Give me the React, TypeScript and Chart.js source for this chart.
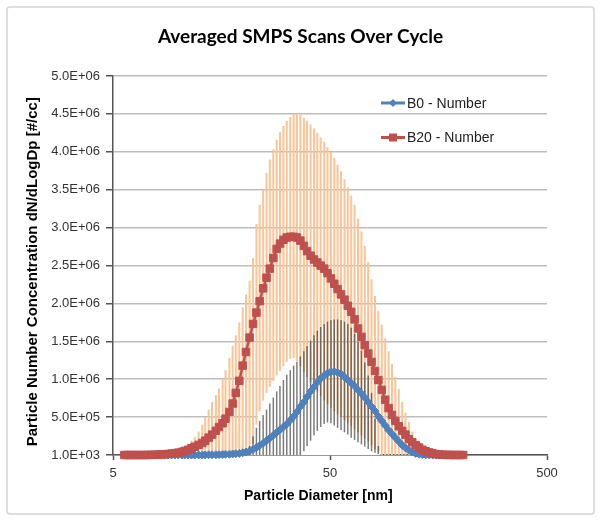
import React, { useEffect, useRef } from "react";
import { Chart, registerables } from "chart.js";

Chart.register(...registerables);

// Particle diameters (nm), SMPS channel midpoints
const DIAMETERS = [
  5.64, 5.83, 6.04, 6.26, 6.49, 6.73, 6.98, 7.23, 7.5, 7.77,
  8.06, 8.35, 8.66, 8.98, 9.31, 9.65, 10.0, 10.4, 10.7, 11.1,
  11.5, 11.9, 12.4, 12.9, 13.3, 13.8, 14.3, 14.9, 15.4, 16.0,
  16.5, 17.2, 17.8, 18.4, 19.1, 19.8, 20.5, 21.3, 22.1, 22.9,
  23.7, 24.6, 25.5, 26.4, 27.4, 28.4, 29.4, 30.5, 31.6, 32.8,
  34.0, 35.2, 36.5, 37.9, 39.2, 40.7, 42.2, 43.7, 45.3, 47.0,
  48.7, 50.5, 52.3, 54.2, 56.2, 58.3, 60.4, 62.6, 64.9, 67.3,
  69.8, 72.3, 75.0, 77.7, 80.6, 83.5, 86.6, 89.8, 93.1, 96.5,
  100.0, 103.7, 107.5, 111.4, 115.5, 119.7, 124.1, 128.6, 133.3, 138.2,
  143.3, 148.6, 154.0, 159.6, 165.5, 171.5, 177.8, 184.3, 191.1, 198.1,
  205.4,
];

// B0 - Number (dN/dLogDp, #/cc)
const B0_NUMBER = [
  1e3, 1e3, 1e3, 1e3, 1e3, 1e3, 1e3, 1e3, 1e3, 1e3,
  1e3, 1e3, 1e3, 1e3, 1e3, 1e3, 1e3, 1e3, 1e3, 1e3,
  1e3, 1e3, 1e3, 1e3, 2e3, 3e3, 4e3, 5e3, 6e3, 8e3,
  1e4, 1.2e4, 1.5e4, 1.8e4, 2.2e4, 3e4, 4e4, 5.5e4, 7.5e4, 1e5,
  1.25e5, 1.55e5, 1.9e5, 2.25e5, 2.6e5, 3e5, 3.35e5, 3.7e5, 4.1e5, 4.6e5,
  5.1e5, 5.7e5, 6.4e5, 7e5, 7.7e5, 8.4e5, 9e5, 9.6e5, 1.01e6, 1.05e6,
  1.08e6, 1.1e6, 1.1e6, 1.09e6, 1.07e6, 1.03e6, 9.9e5, 9.5e5, 9.1e5, 8.6e5,
  8.1e5, 7.6e5, 7e5, 6.4e5, 5.8e5, 5.1e5, 4.5e5, 3.9e5, 3.3e5, 2.8e5,
  2.3e5, 1.8e5, 1.3e5, 9.5e4, 6.5e4, 4e4, 2.2e4, 1.2e4, 6e3, 3e3,
  2e3, 1e3, 1e3, 1e3, 1e3, 1e3, 1e3, 1e3, 1e3, 1e3,
  1e3,
];

// B20 - Number (dN/dLogDp, #/cc)
const B20_NUMBER = [
  1e3, 1e3, 1e3, 1e3, 1e3, 1e3, 1e3, 2e3, 3e3, 4e3,
  6e3, 8e3, 1.1e4, 1.5e4, 2e4, 2.5e4, 3.2e4, 4.2e4, 5.5e4, 7e4,
  9e4, 1.1e5, 1.35e5, 1.6e5, 1.9e5, 2.3e5, 2.7e5, 3.2e5, 3.7e5, 4.2e5,
  4.8e5, 5.7e5, 6.8e5, 8.2e5, 9.8e5, 1.18e6, 1.36e6, 1.55e6, 1.73e6, 1.88e6,
  2.03e6, 2.2e6, 2.34e6, 2.46e6, 2.6e6, 2.72e6, 2.79e6, 2.84e6, 2.87e6, 2.88e6,
  2.88e6, 2.87e6, 2.83e6, 2.76e6, 2.69e6, 2.63e6, 2.58e6, 2.54e6, 2.5e6, 2.46e6,
  2.4e6, 2.33e6, 2.26e6, 2.19e6, 2.12e6, 2.05e6, 1.97e6, 1.89e6, 1.79e6, 1.67e6,
  1.56e6, 1.45e6, 1.34e6, 1.23e6, 1.11e6, 9.9e5, 8.6e5, 7.3e5, 6.2e5, 5.3e5,
  4.5e5, 3.8e5, 3.2e5, 2.7e5, 2.1e5, 1.7e5, 1.3e5, 1e5, 7e4, 5e4,
  3.5e4, 2.2e4, 1.3e4, 8e3, 5e3, 3e3, 2e3, 1e3, 1e3, 1e3,
  1e3,
];

// B20 error bar tops (orange)
const B20_ERR_HIGH = [
  1e3, 1e3, 1e3, 1e3, 1e3, 1e3, 1e3, 1e3, 1e3, 1e3,
  1e3, 1e3, 1e3, 1e3, 2e4, 4e4, 6e4, 8e4, 1.1e5, 1.5e5,
  1.9e5, 2.4e5, 3.1e5, 4e5, 5e5, 6e5, 7e5, 7.9e5, 8.8e5, 1e6,
  1.12e6, 1.28e6, 1.44e6, 1.58e6, 1.75e6, 1.95e6, 2.12e6, 2.3e6, 2.6e6, 3.05e6,
  3.3e6, 3.5e6, 3.72e6, 3.9e6, 4.03e6, 4.16e6, 4.26e6, 4.34e6, 4.41e6, 4.46e6,
  4.5e6, 4.51e6, 4.49e6, 4.45e6, 4.41e6, 4.36e6, 4.31e6, 4.25e6, 4.19e6, 4.13e6,
  4.06e6, 4e6, 3.92e6, 3.83e6, 3.74e6, 3.64e6, 3.53e6, 3.42e6, 3.3e6, 3.12e6,
  2.95e6, 2.76e6, 2.55e6, 2.32e6, 2.1e6, 1.9e6, 1.72e6, 1.54e6, 1.37e6, 1.2e6,
  1.03e6, 8.7e5, 7e5, 5.6e5, 4.4e5, 3.1e5, 1.8e5, 8e4, 3e4, 1e3,
  1e3, 1e3, 1e3, 1e3, 1e3, 1e3, 1e3, 1e3, 1e3, 1e3,
  1e3,
];

// B0 error bar bottoms (dark)
const B0_ERR_LOW = [
  1e3, 1e3, 1e3, 1e3, 1e3, 1e3, 1e3, 1e3, 1e3, 1e3,
  1e3, 1e3, 1e3, 1e3, 1e3, 1e3, 1e3, 1e3, 1e3, 1e3,
  1e3, 1e3, 1e3, 1e3, 1e3, 1e3, 1e3, 1e3, 1e3, 1e3,
  1e3, 1e3, 1e3, 1e3, 1e3, 1e3, 1e3, 1e3, 1e3, 1e3,
  1e3, 1e3, 1e3, 1e3, 1e3, 1e3, 1e3, 1e3, 1e3, 1e3,
  1e3, 1e3, 1e3, 5e4, 1.2e5, 1.9e5, 2.6e5, 3.2e5, 3.7e5, 4.1e5,
  4.3e5, 4.2e5, 3.9e5, 3.6e5, 3.3e5, 3e5, 2.7e5, 2.3e5, 2e5, 1.7e5,
  1.4e5, 1.1e5, 8e4, 5e4, 3e4, 1e4, 1e3, 1e3, 1e3, 1e3,
  1e3, 1e3, 1e3, 1e3, 1e3, 1e3, 1e3, 1e3, 1e3, 1e3,
  1e3, 1e3, 1e3, 1e3, 1e3, 1e3, 1e3, 1e3, 1e3, 1e3,
  1e3,
];

// B0 error bar tops (dark)
const B0_ERR_HIGH = [
  1e3, 1e3, 1e3, 1e3, 1e3, 1e3, 1e3, 1e3, 1e3, 1e3,
  1e3, 1e3, 1e3, 1e3, 1e3, 1e3, 1e3, 1e3, 1e3, 1e3,
  1e3, 1e3, 1e3, 1e3, 1e3, 1e3, 1e3, 1e3, 1e3, 1e3,
  1e3, 1e3, 1e3, 1e3, 1e3, 1e3, 1e3, 1.2e5, 2.5e5, 3.6e5,
  4.5e5, 5.3e5, 6e5, 6.8e5, 7.6e5, 8.4e5, 9.1e5, 9.9e5, 1.06e6, 1.12e6,
  1.18e6, 1.23e6, 1.3e6, 1.37e6, 1.44e6, 1.51e6, 1.58e6, 1.64e6, 1.69e6, 1.73e6,
  1.76e6, 1.78e6, 1.79e6, 1.79e6, 1.78e6, 1.76e6, 1.73e6, 1.68e6, 1.6e6, 1.5e6,
  1.38e6, 1.22e6, 1.05e6, 8.2e5, 4.8e5, 1.2e5, 1e3, 1e3, 1e3, 1e3,
  1e3, 1e3, 1e3, 1e3, 1e3, 1e3, 1e3, 1e3, 1e3, 1e3,
  1e3, 1e3, 1e3, 1e3, 1e3, 1e3, 1e3, 1e3, 1e3, 1e3,
  1e3,
];

// White (background-coloured) error bar tops of B0
const B0_MASK_HIGH = [
  1e3, 1e3, 1e3, 1e3, 1e3, 1e3, 1e3, 1e3, 1e3, 1e3,
  1e3, 1e3, 1e3, 1e3, 1e3, 1e3, 1e3, 1e3, 1e3, 1e3,
  1e3, 1e3, 1e3, 1e3, 1e3, 1e3, 1e3, 1e3, 1e3, 1e3,
  1e3, 1e3, 1e3, 1e3, 1e3, 1e3, 1e3, 1e3, 1.5e5, 4e5,
  5.8e5, 7.2e5, 8.2e5, 9e5, 9.8e5, 1.05e6, 1.11e6, 1.17e6, 1.23e6, 1.27e6,
  1.28e6, 1.24e6, 1.17e6, 1.1e6, 1.03e6, 9.6e5, 9e5, 8.4e5, 7.8e5, 7.2e5,
  6.7e5, 6.2e5, 5.8e5, 5.4e5, 5e5, 4.6e5, 4.2e5, 3.8e5, 3.4e5, 3e5,
  2.6e5, 2.2e5, 1.8e5, 1.3e5, 8e4, 4e4, 1e3, 1e3, 1e3, 1e3,
  1e3, 1e3, 1e3, 1e3, 1e3, 1e3, 1e3, 1e3, 1e3, 1e3,
  1e3, 1e3, 1e3, 1e3, 1e3, 1e3, 1e3, 1e3, 1e3, 1e3,
  1e3,
];

const SERIES_NAMES = ["B0 - Number", "B20 - Number"];
const X_TICKS = [5, 50, 500];
const X_TICK_LABELS = ["5", "50", "500"];
const Y_TICKS = [1e3, 5.01e5, 1.001e6, 1.501e6, 2.001e6, 2.501e6, 3.001e6, 3.501e6, 4.001e6, 4.501e6, 5.001e6];
const Y_TICK_LABELS = ["1.0E+03", "5.0E+05", "1.0E+06", "1.5E+06", "2.0E+06", "2.5E+06", "3.0E+06", "3.5E+06", "4.0E+06", "4.5E+06", "5.0E+06"];
const TITLE = "Averaged SMPS Scans Over Cycle";
const X_TITLE = "Particle Diameter [nm]";
const Y_TITLE = "Particle Number Concentration dN/dLogDp [#/cc]";

const BLUE = "#4F81BD";
const RED = "#C0504D";
const FONT = "'Liberation Sans', Arial, sans-serif";

const BASE = Y_TICKS[0];

function lineData(values: number[]) {
  return DIAMETERS.map((d, i) => ({ x: d, y: values[i] }));
}
function barData(lo: number[], hi: number[]) {
  return DIAMETERS.map((d, i) => ({ x: d, y: [lo[i], hi[i]] })).filter((p) => p.y[1] > p.y[0]);
}

const framePlugin = {
  id: "frame",
  beforeDraw(chart: any) {
    const { ctx, width, height } = chart;
    ctx.save();
    ctx.fillStyle = "#fff";
    ctx.fillRect(0, 0, width, height);
    ctx.strokeStyle = "#d4d4d4";
    ctx.lineWidth = 1.5;
    ctx.beginPath();
    (ctx as any).roundRect ? (ctx as any).roundRect(7, 7, width - 14, height - 14, 3) : ctx.rect(7, 7, width - 14, height - 14);
    ctx.stroke();
    ctx.restore();
  },
};

const legendPlugin = {
  id: "sideLegend",
  afterDraw(chart: any) {
    const { ctx } = chart;
    const items = [
      { label: SERIES_NAMES[0], color: BLUE, shape: "diamond", y: 103 },
      { label: SERIES_NAMES[1], color: RED, shape: "square", y: 137.5 },
    ];
    ctx.save();
    for (const it of items) {
      ctx.strokeStyle = it.color;
      ctx.lineWidth = 3;
      ctx.beginPath();
      ctx.moveTo(381, it.y);
      ctx.lineTo(405, it.y);
      ctx.stroke();
      ctx.fillStyle = it.color;
      ctx.beginPath();
      if (it.shape === "diamond") {
        ctx.moveTo(393, it.y - 4);
        ctx.lineTo(397, it.y);
        ctx.lineTo(393, it.y + 4);
        ctx.lineTo(389, it.y);
        ctx.closePath();
      } else {
        ctx.rect(389, it.y - 4, 8, 8);
      }
      ctx.fill();
      ctx.fillStyle = "#222";
      ctx.font = `14px ${FONT}`;
      ctx.textBaseline = "middle";
      ctx.textAlign = "left";
      ctx.fillText(it.label, 407, it.y + 1);
    }
    ctx.restore();
  },
};

export default function App() {
  const ref = useRef<HTMLCanvasElement>(null);
  useEffect(() => {
    if (!ref.current) return;
    Chart.defaults.font.family = FONT;
    const common = {
      type: "bar" as const,
      grouped: false,
      categoryPercentage: 1,
      barPercentage: 10,
      borderWidth: 0,
    };
    const chart = new Chart(ref.current, {
      type: "line",
      data: {
        datasets: [
          {
            label: SERIES_NAMES[1],
            data: lineData(B20_NUMBER),
            borderColor: RED,
            backgroundColor: RED,
            borderWidth: 2.5,
            pointStyle: "rect",
            pointRadius: 5.3,
            pointBorderWidth: 1,
            pointBorderColor: RED,
            pointBackgroundColor: RED,
            order: 0,
            clip: 10,
          } as any,
          {
            label: SERIES_NAMES[0],
            data: lineData(B0_NUMBER),
            borderColor: BLUE,
            backgroundColor: BLUE,
            borderWidth: 3,
            pointStyle: "rectRot",
            pointRadius: 4,
            pointBorderWidth: 1,
            pointBorderColor: BLUE,
            pointBackgroundColor: BLUE,
            order: 1,
            clip: 10,
          } as any,
          {
            ...common,
            label: "B0 error (dark)",
            data: barData(B0_ERR_LOW, B0_ERR_HIGH),
            backgroundColor: "rgba(35,35,35,0.6)",
            maxBarThickness: 1.5,
            order: 2,
          } as any,
          {
            ...common,
            label: "B0 error (white)",
            data: barData(B0_ERR_LOW.map(() => BASE), B0_MASK_HIGH),
            backgroundColor: "#ffffff",
            maxBarThickness: 4,
            order: 3,
          } as any,
          {
            ...common,
            label: "B20 error",
            data: barData(B20_ERR_HIGH.map(() => BASE), B20_ERR_HIGH),
            backgroundColor: "rgb(249,196,150)",
            maxBarThickness: 2,
            order: 4,
          } as any,
        ],
      },
      options: {
        responsive: false,
        animation: false,
        devicePixelRatio: 1,
        events: [],
        layout: { padding: { left: 0, right: 0, top: 0, bottom: 0 } },
        plugins: {
          legend: { display: false },
          tooltip: { enabled: false },
          title: {
            display: true,
            text: TITLE,
            color: "#000",
            font: { family: "Lato, 'Liberation Sans', sans-serif", size: 19, weight: "bold" },
            padding: { top: 25.6, bottom: 27.6 },
          },
        },
        scales: {
          x: {
            type: "logarithmic",
            min: 5,
            max: 500,
            offset: false,
            afterBuildTicks: (s: any) => {
              s.ticks = X_TICKS.map((v) => ({ value: v }));
            },
            afterFit: (s: any) => {
              s.height = 66;
            },
            ticks: {
              autoSkip: false,
              maxRotation: 0,
              padding: 6,
              color: "#333",
              font: { size: 13 },
              callback: (v: any) => {
                const i = X_TICKS.indexOf(Number(v));
                return i >= 0 ? X_TICK_LABELS[i] : "";
              },
            },
            grid: {
              offset: false,
              drawOnChartArea: false,
              drawTicks: true,
              tickLength: 5,
              tickColor: "#555",
              tickWidth: 1.5,
            },
            border: { color: "#555", width: 1.5 },
            title: {
              display: true,
              text: X_TITLE + "\u00a0\u00a0\u00a0\u00a0\u00a0\u00a0",
              color: "#000",
              font: { size: 14, weight: "bold" },
              padding: { top: 0, bottom: 16 },
            },
          },
          y: {
            type: "linear",
            min: Y_TICKS[0],
            max: Y_TICKS[Y_TICKS.length - 1],
            afterBuildTicks: (s: any) => {
              s.ticks = Y_TICKS.map((v) => ({ value: v }));
            },
            afterFit: (s: any) => {
              s.width = 113;
            },
            ticks: {
              autoSkip: false,
              padding: 6,
              color: "#333",
              font: { size: 13 },
              callback: (_v: any, i: number) => Y_TICK_LABELS[i],
            },
            grid: {
              color: "#bdbdbd",
              lineWidth: 1.5,
              drawTicks: true,
              tickLength: 7,
              tickColor: "#555",
              tickWidth: 1.5,
            },
            border: { color: "#555", width: 1.5 },
            title: {
              display: true,
              text: Y_TITLE + "\u00a0\u00a0\u00a0",
              color: "#000",
              font: { size: 15, weight: "bold" },
              padding: { top: 24, bottom: 0 },
            },
          },
          spacer: {
            type: "linear",
            position: "right",
            display: true,
            grid: { display: false, drawTicks: false },
            border: { display: false },
            ticks: { display: false },
            afterFit: (s: any) => {
              s.width = 54;
            },
          },
        },
      } as any,
      plugins: [framePlugin, legendPlugin],
    });
    return () => chart.destroy();
  }, []);
  return (
    <div style={{ position: "absolute", left: 0, top: 0, width: 601, height: 521 }}>
      <canvas ref={ref} width={601} height={521} style={{ display: "block" }} />
    </div>
  );
}
